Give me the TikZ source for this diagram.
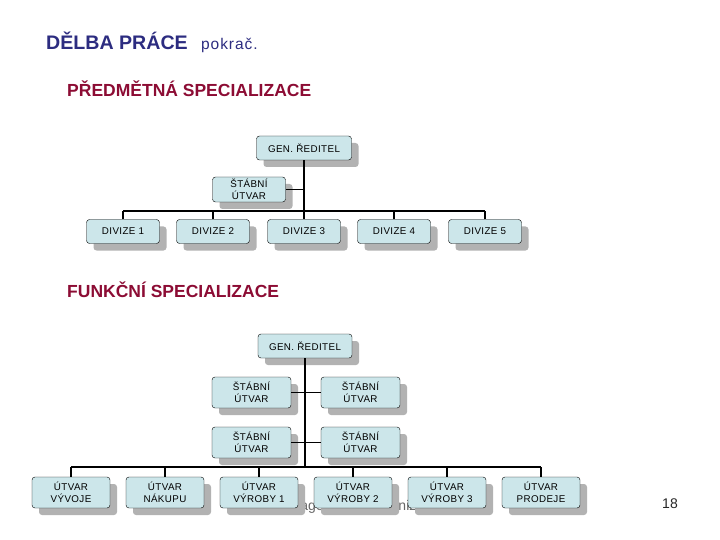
\documentclass[tikz,border=0pt]{standalone}
\usepackage{fontspec}
\setmainfont{Liberation Sans}
\usetikzlibrary{shadows}
\definecolor{titleblue}{RGB}{44,44,128}
\definecolor{secred}{RGB}{140,12,52}
\definecolor{boxfill}{RGB}{204,230,234}
\definecolor{shadowgray}{RGB}{178,178,178}

\begin{document}
\begin{tikzpicture}[x=1pt,y=-1pt,
    orgbox/.style={draw=black, fill=boxfill, rounded corners=3pt, inner sep=1pt,
      align=center, font=\fontsize{9.8}{12.5}\selectfont\addfontfeatures{LetterSpace=4},
      drop shadow={shadow xshift=7pt, shadow yshift=-7pt, fill=shadowgray, opacity=1}},
    wide/.style={minimum width=95pt, minimum height=24pt},
    small/.style={minimum width=73pt, minimum height=24pt},
    tall/.style={minimum width=79pt, minimum height=31pt},
    link/.style={line width=1.5pt}]
  \useasboundingbox (0,0) rectangle (720,540);
  % headings
  \node[anchor=base west, inner sep=0, text=titleblue, font=\fontsize{19.6}{22}\selectfont\bfseries] (title) at (46,50) {DĚLBA PRÁCE};
  \node[anchor=base west, inner sep=0, text=titleblue, font=\fontsize{15.5}{18}\selectfont\addfontfeatures{LetterSpace=6}] (cont) at (201,50) {pokrač.};
  \node[anchor=base west, inner sep=0, text=secred, font=\fontsize{17.5}{20}\selectfont\bfseries] (subA) at (67,97) {PŘEDMĚTNÁ SPECIALIZACE};
  \node[anchor=base west, inner sep=0, text=secred, font=\fontsize{17.5}{20}\selectfont\bfseries] (subB) at (67,297) {FUNKČNÍ SPECIALIZACE};
  \node[anchor=base west, inner sep=0, text=black!60, font=\fontsize{14}{16}\selectfont] (foot) at (273,510) {Management a organizace};
  \node[anchor=base east, inner sep=0, text=black!85, font=\fontsize{14}{16}\selectfont] (page) at (678,508) {18};

  % subject specialisation
  \node[orgbox, wide] (genA) at (304,148) {GEN. ŘEDITEL};
  \node[orgbox, small, minimum height=25pt] (stabA) at (249,189.5) {ŠTÁBNÍ\\ÚTVAR};
  \node[orgbox, small] (div1) at (123,231.5) {DIVIZE 1};
  \node[orgbox, small] (div2) at (213,231.5) {DIVIZE 2};
  \node[orgbox, small] (div3) at (304,231.5) {DIVIZE 3};
  \node[orgbox, small] (div4) at (394,231.5) {DIVIZE 4};
  \node[orgbox, small] (div5) at (485,231.5) {DIVIZE 5};
  \coordinate (busA) at (304,211);
  \draw[link] (genA.south) -- (div3.north);
  \draw[link] (stabA.east) -- (stabA.east -| genA.south);
  \draw[link] (div1.north |- busA) -- (div5.north |- busA);
  \draw[link] (div1.north) -- (div1.north |- busA);
  \draw[link] (div2.north) -- (div2.north |- busA);
  \draw[link] (div4.north) -- (div4.north |- busA);
  \draw[link] (div5.north) -- (div5.north |- busA);

  % functional specialisation
  \node[orgbox, wide, minimum width=94pt] (genB) at (305,346) {GEN. ŘEDITEL};
  \node[orgbox, tall] (stabB1) at (251.5,392.5) {ŠTÁBNÍ\\ÚTVAR};
  \node[orgbox, tall] (stabB2) at (360.5,392.5) {ŠTÁBNÍ\\ÚTVAR};
  \node[orgbox, tall] (stabB3) at (251.5,442.5) {ŠTÁBNÍ\\ÚTVAR};
  \node[orgbox, tall] (stabB4) at (360.5,442.5) {ŠTÁBNÍ\\ÚTVAR};
  \coordinate (busB) at (305,467);
  \draw[link] (genB.south) -- (busB);
  \draw[link] (stabB1.east) -- (stabB2.west);
  \draw[link] (stabB3.east) -- (stabB4.west);
  \node[orgbox, tall, minimum width=78pt] (unit1) at (71,492.5) {ÚTVAR\\VÝVOJE};
  \node[orgbox, tall, minimum width=78pt] (unit2) at (165,492.5) {ÚTVAR\\NÁKUPU};
  \node[orgbox, tall, minimum width=78pt] (unit3) at (259,492.5) {ÚTVAR\\VÝROBY 1};
  \node[orgbox, tall, minimum width=78pt] (unit4) at (353,492.5) {ÚTVAR\\VÝROBY 2};
  \node[orgbox, tall, minimum width=78pt] (unit5) at (447,492.5) {ÚTVAR\\VÝROBY 3};
  \node[orgbox, tall, minimum width=78pt] (unit6) at (541,492.5) {ÚTVAR\\PRODEJE};
  \draw[link] (unit1.north |- busB) -- (unit6.north |- busB);
  \draw[link] (unit1.north) -- (unit1.north |- busB);
  \draw[link] (unit2.north) -- (unit2.north |- busB);
  \draw[link] (unit3.north) -- (unit3.north |- busB);
  \draw[link] (unit4.north) -- (unit4.north |- busB);
  \draw[link] (unit5.north) -- (unit5.north |- busB);
  \draw[link] (unit6.north) -- (unit6.north |- busB);
\end{tikzpicture}
\end{document}
